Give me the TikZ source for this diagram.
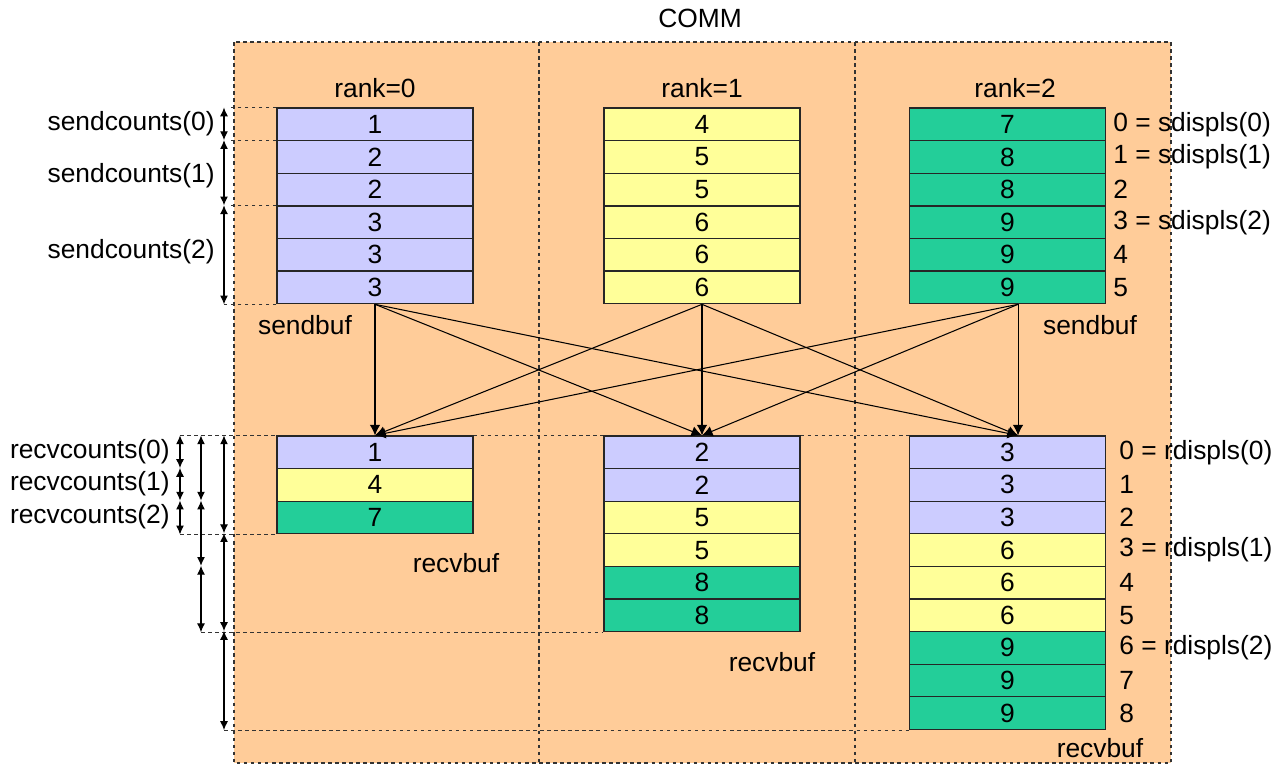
\documentclass[tikz,border=0pt]{standalone}
\usepackage{fontspec}
\setmainfont{Liberation Sans}
\usetikzlibrary{arrows.meta,positioning}
\definecolor{commorange}{RGB}{255,204,153}
\definecolor{rkpurple}{RGB}{204,204,255}
\definecolor{rkyellow}{RGB}{255,255,153}
\definecolor{rkgreen}{RGB}{35,206,153}
\definecolor{dashgray}{RGB}{51,51,51}

\begin{document}
\begin{tikzpicture}[x=0.02cm, y=-0.02cm,
  every node/.style={font=\fontsize{15}{17}\selectfont, text=black},
  cell/.style={draw=black!85, line width=0.7pt, minimum width=3.92cm,
               minimum height=0.652cm, inner sep=0pt},
  guide/.style={dash pattern=on 2pt off 2pt, draw=dashgray, line width=0.6pt},
  flow/.style={-{Latex[length=6pt,width=6pt]}, line width=0.6pt},
  span/.style={{Latex[length=5pt,width=4.5pt]}-{Latex[length=5pt,width=4.5pt]}, line width=0.6pt}]
\useasboundingbox (0,0) rectangle (1288,772);
% communicator area
\fill[commorange] (234,42) rectangle (1171,763);
\draw[guide] (234,42) rectangle (1171,763);
\draw[guide] (539,42) -- (539,763);
\draw[guide] (855,42) -- (855,763);
\node (comm) at (700,18) {COMM};
\node (rank0) at (375,88) {rank=0};
\node (rank1) at (702,88) {rank=1};
\node (rank2) at (1015,88) {rank=2};
% send buffers
\foreach \r/\cx/\col/\vals in {0/375/rkpurple/{1,2,2,3,3,3},
    1/702/rkyellow/{4,5,5,6,6,6}, 2/1007.5/rkgreen/{7,8,8,9,9,9}}
  \foreach \v [count=\i from 0] in \vals
    \node[cell, fill=\col] (s\r-\i) at (\cx, {124.4+32.6*\i}) {\v};
% receive buffers
\foreach \r/\cx/\vals in {0/375/{1/rkpurple,4/rkyellow,7/rkgreen},
    1/702/{2/rkpurple,2/rkpurple,5/rkyellow,5/rkyellow,8/rkgreen,8/rkgreen},
    2/1007.5/{3/rkpurple,3/rkpurple,3/rkpurple,6/rkyellow,6/rkyellow,6/rkyellow,9/rkgreen,9/rkgreen,9/rkgreen}}
  \foreach \v/\col [count=\i from 0] in \vals
    \node[cell, fill=\col] (r\r-\i) at (\cx, {452.3+32.6*\i}) {\v};
\node (sbuf0) at (305,325) {sendbuf};
\node (sbuf2) at (1090,325) {sendbuf};
\node (rbuf0) at (456,563) {recvbuf};
\node (rbuf1) at (772,662) {recvbuf};
\node (rbuf2) at (1100,748) {recvbuf};
% alltoallv transfers
\coordinate (out0) at (s0-5.south);
\coordinate (out1) at (s1-5.south);
\coordinate (out2) at ([xshift=6pt]s2-5.south);
\coordinate (in0) at (r0-0.north);
\coordinate (in1) at (r1-0.north);
\coordinate (in2) at ([xshift=6pt]r2-0.north);
\foreach \a in {0,1,2}
  \foreach \b in {0,1,2}
    \draw[flow] (out\a) -- (in\b);
% displacements
\foreach \t [count=\i from 0] in {0 = sdispls(0),1 = sdispls(1),2,3 = sdispls(2),4,5}
  \node[anchor=west, inner sep=0pt] (sd\i) at (1113, {124.4+32.6*\i}) {\t};
\foreach \t [count=\i from 0] in {0 = rdispls(0),1,2,3 = rdispls(1),4,5,6 = rdispls(2),7,8}
  \node[anchor=west, inner sep=0pt] (rd\i) at (1119, {452.3+32.6*\i}) {\t};
% counts
\coordinate (sx) at (224,0);
\coordinate (rx0) at (180,0);
\coordinate (rx1) at (201,0);
\coordinate (rx2) at (224,0);
\draw[guide] (s0-0.north west) -- ++(-47,0);
\draw[guide] (s0-1.north west) -- ++(-47,0);
\draw[guide] (s0-3.north west) -- ++(-47,0);
\draw[guide] (s0-5.south west) -- ++(-53,0);
\draw[span] (s0-0.north west -| sx) -- (s0-1.north west -| sx);
\draw[span] (s0-1.north west -| sx) -- (s0-3.north west -| sx);
\draw[span] (s0-3.north west -| sx) -- (s0-5.south west -| sx);
\node[anchor=east, inner sep=0pt] (sc0) at (215,124) {sendcounts(0)};
\node[anchor=east, inner sep=0pt] (sc1) at (215,176) {sendcounts(1)};
\node[anchor=east, inner sep=0pt] (sc2) at (215,252) {sendcounts(2)};
\draw[guide] (r0-0.north west -| rx0) -- (r0-0.north west);
\draw[guide] (r0-0.north east) -- (r1-0.north west);
\draw[guide] (r1-0.north east) -- (r2-0.north west);
\draw[guide] (r0-2.south west -| rx0) -- (r0-2.south west);
\draw[guide] (r1-5.south west -| rx1) -- (r1-5.south west);
\draw[guide] (r2-8.south west -| rx2) -- (r2-8.south west);
\draw[span] (r0-0.north -| rx0) -- (r0-1.north -| rx0);
\draw[span] (r0-1.north -| rx0) -- (r0-2.north -| rx0);
\draw[span] (r0-2.north -| rx0) -- (r0-2.south -| rx0);
\draw[span] (r1-0.north -| rx1) -- (r1-2.north -| rx1);
\draw[span] (r1-2.north -| rx1) -- (r1-4.north -| rx1);
\draw[span] (r1-4.north -| rx1) -- (r1-5.south -| rx1);
\draw[span] (r2-0.north -| rx2) -- (r2-3.north -| rx2);
\draw[span] (r2-3.north -| rx2) -- (r2-6.north -| rx2);
\draw[span] (r2-6.north -| rx2) -- (r2-8.south -| rx2);
\node[anchor=east, inner sep=0pt] (rc0) at (170,452) {recvcounts(0)};
\node[anchor=east, inner sep=0pt] (rc1) at (170,484) {recvcounts(1)};
\node[anchor=east, inner sep=0pt] (rc2) at (170,517) {recvcounts(2)};
\end{tikzpicture}
\end{document}
